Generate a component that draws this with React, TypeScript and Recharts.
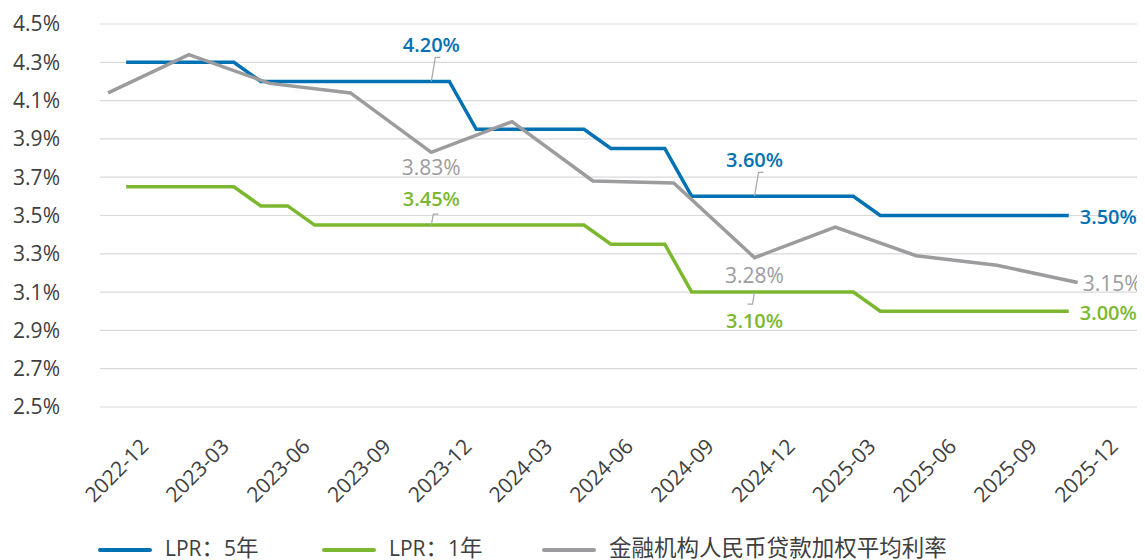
import { LineChart, Line, XAxis, YAxis, CartesianGrid, Legend } from 'recharts';

const MONTHS = [
  '2022-12', '2023-01', '2023-02', '2023-03', '2023-04', '2023-05', '2023-06',
  '2023-07', '2023-08', '2023-09', '2023-10', '2023-11', '2023-12',
  '2024-01', '2024-02', '2024-03', '2024-04', '2024-05', '2024-06',
  '2024-07', '2024-08', '2024-09', '2024-10', '2024-11', '2024-12',
  '2025-01', '2025-02', '2025-03', '2025-04', '2025-05', '2025-06',
  '2025-07', '2025-08', '2025-09', '2025-10', '2025-11', '2025-12',
];

// LPR is quoted on the 20th, so it sits ~2/3 of a month after the month start
const LPR_MONTHS = MONTHS.slice(0, 36);
const LPR_OFFSET = 0.67;

const LPR_5Y = [
  4.3, 4.3, 4.3, 4.3, 4.3, 4.2, 4.2, 4.2, 4.2, 4.2, 4.2, 4.2, 4.2,
  3.95, 3.95, 3.95, 3.95, 3.95, 3.85, 3.85, 3.85,
  3.6, 3.6, 3.6, 3.6, 3.6, 3.6, 3.6,
  3.5, 3.5, 3.5, 3.5, 3.5, 3.5, 3.5, 3.5,
];

const LPR_1Y = [
  3.65, 3.65, 3.65, 3.65, 3.65, 3.55, 3.55,
  3.45, 3.45, 3.45, 3.45, 3.45, 3.45, 3.45, 3.45, 3.45, 3.45, 3.45,
  3.35, 3.35, 3.35,
  3.1, 3.1, 3.1, 3.1, 3.1, 3.1, 3.1,
  3.0, 3.0, 3.0, 3.0, 3.0, 3.0, 3.0, 3.0,
];

const QUARTERS = [
  '2022-12', '2023-03', '2023-06', '2023-09', '2023-12', '2024-03', '2024-06',
  '2024-09', '2024-12', '2025-03', '2025-06', '2025-09', '2025-12',
];
const LOAN_RATE = [4.14, 4.34, 4.19, 4.14, 3.83, 3.99, 3.68, 3.67, 3.28, 3.44, 3.29, 3.24, 3.15];

const Y_TICKS = [2.5, 2.7, 2.9, 3.1, 3.3, 3.5, 3.7, 3.9, 4.1, 4.3, 4.5];

const COLORS = {
  lpr5: '#0071B3',
  lpr1: '#7CB82F',
  loan: '#9C9C9F',
  leader: '#A6A6A6',
  grid: '#D9D9D9',
  text: '#404040',
};

const FONT = '"Open Sans", "Noto Sans CJK SC", sans-serif';

const lpr5Data = LPR_MONTHS.map((m, i) => ({ x: MONTHS.indexOf(m) + LPR_OFFSET, value: LPR_5Y[i] }));
const lpr1Data = LPR_MONTHS.map((m, i) => ({ x: MONTHS.indexOf(m) + LPR_OFFSET, value: LPR_1Y[i] }));
const loanData = QUARTERS.map((q, i) => ({ x: MONTHS.indexOf(q), value: LOAN_RATE[i] }));
const xTicks = QUARTERS.map((q) => MONTHS.indexOf(q));

type LabelSpec = {
  index: number;
  dx: number;
  dy: number;
  anchor?: 'middle' | 'start';
  leader?: [number, number, number];
};

const LPR5_LABELS: LabelSpec[] = [
  { index: 12, dx: -18, dy: -37, leader: [4, -24, 5] },
  { index: 24, dx: -18, dy: -37, leader: [4, -24, 5] },
  { index: 35, dx: 11, dy: 1, anchor: 'start' },
];
const LPR1_LABELS: LabelSpec[] = [
  { index: 12, dx: -18, dy: -27, leader: [2, -11, 5] },
  { index: 24, dx: -18, dy: 28, leader: [-2, 12, -5] },
  { index: 35, dx: 11, dy: 1, anchor: 'start' },
];
const LOAN_LABELS: LabelSpec[] = [
  { index: 4, dx: 0, dy: 15 },
  { index: 8, dx: 0, dy: 17 },
  { index: 12, dx: 5, dy: 0, anchor: 'start' },
];

const makeLabel = (specs: LabelSpec[], color: string, weight: number, size: number) => (props: any) => {
  const { x, y, index, value } = props;
  const spec = specs.find((s) => s.index === index);
  if (!spec || x == null || y == null) return <g key={`l-${index}`} />;
  const px = x + (spec.anchor === 'start' ? 0 : spec.dx);
  const tx = x + spec.dx;
  return (
    <g key={`l-${index}`}>
      {spec.leader && (
        <path
          d={`M${px},${y} L${px + spec.leader[0]},${y + spec.leader[1]} L${px + spec.leader[0] + spec.leader[2]},${y + spec.leader[1]}`}
          stroke={COLORS.leader}
          strokeWidth={1.2}
          fill="none"
        />
      )}
      <text
        x={tx}
        y={y + spec.dy}
        textAnchor={spec.anchor ?? 'middle'}
        dominantBaseline="central"
        fill={color}
        fontSize={size}
        fontWeight={weight}
        fontFamily={FONT}
      >
        {`${Number(value).toFixed(2)}%`}
      </text>
    </g>
  );
};

const XTick = ({ x, y, payload }: any) => (
  <g transform={`translate(${x + 31},${y + 30})`}>
    <text
      textAnchor="end"
      transform="rotate(-45)"
      dy="0.72em"
      fill={COLORS.text}
      fontSize={21}
      fontFamily={FONT}
    >
      {MONTHS[payload.value]}
    </text>
  </g>
);

const isCjk = (ch: string) => /[\u3000-\u9fff\uff00-\uffef]/.test(ch);

const LegendText = ({ text }: { text: string }) => (
  <span style={{ whiteSpace: 'nowrap', position: 'relative', top: -3, lineHeight: '18px' }}>
    {Array.from(text).map((ch, i) =>
      isCjk(ch) ? (
        <span key={i} style={{ fontFamily: '"Noto Sans CJK SC"', fontSize: 22.5, lineHeight: '18px' }}>
          {ch}
        </span>
      ) : (
        <span key={i}>{ch}</span>
      ),
    )}
  </span>
);

const LEGEND_ITEMS = [
  { name: 'LPR：5年', color: COLORS.lpr5, left: 90 },
  { name: 'LPR：1年', color: COLORS.lpr1, left: 314 },
  { name: '金融机构人民币贷款加权平均利率', color: COLORS.loan, left: 534 },
];

const renderLegend = () => (
  <div style={{ position: 'relative', height: 40, fontFamily: FONT, fontSize: 21, color: COLORS.text }}>
    {LEGEND_ITEMS.map((item) => (
      <div
        key={item.name}
        style={{
          position: 'absolute',
          left: item.left,
          top: 18,
          height: 24,
          display: 'flex',
          alignItems: 'center',
        }}
      >
        <div style={{ width: 54, height: 4, borderRadius: 2, background: item.color, marginRight: 13 }} />
        <LegendText text={item.name} />
      </div>
    ))}
  </div>
);

export default function App() {
  return (
    <LineChart
      width={1137}
      height={552}
      margin={{ top: 16, right: 0, bottom: 0, left: 0 }}
      style={{ fontFamily: FONT }}
    >
      <CartesianGrid horizontal vertical={false} stroke={COLORS.grid} strokeWidth={1.2} />
      <XAxis
        type="number"
        dataKey="x"
        domain={[-0.3, 38.5]}
        ticks={xTicks}
        interval={0}
        allowDataOverflow
        axisLine={false}
        tickLine={false}
        tickSize={0}
        tickMargin={0}
        height={113}
        tick={<XTick />}
      />
      <YAxis
        type="number"
        domain={[2.5, 4.5]}
        ticks={Y_TICKS}
        interval={0}
        width={92}
        axisLine={false}
        tickLine={false}
        tickSize={0}
        tickMargin={40}
        tickFormatter={(v: number) => `${v.toFixed(1)}%`}
        tick={{ fontSize: 21, fill: COLORS.text, fontFamily: FONT }}
      />
      <Legend verticalAlign="bottom" height={40} content={renderLegend} wrapperStyle={{ left: 0, width: 1137 }} />
      <Line
        data={lpr5Data}
        dataKey="value"
        name="LPR：5年"
        type="linear"
        stroke={COLORS.lpr5}
        strokeWidth={3.5}
        dot={false}
        isAnimationActive={false}
        label={makeLabel(LPR5_LABELS, COLORS.lpr5, 600, 20)}
      />
      <Line
        data={lpr1Data}
        dataKey="value"
        name="LPR：1年"
        type="linear"
        stroke={COLORS.lpr1}
        strokeWidth={3.5}
        dot={false}
        isAnimationActive={false}
        label={makeLabel(LPR1_LABELS, COLORS.lpr1, 600, 20)}
      />
      <Line
        data={loanData}
        dataKey="value"
        name="金融机构人民币贷款加权平均利率"
        type="linear"
        stroke={COLORS.loan}
        strokeWidth={3.5}
        dot={false}
        isAnimationActive={false}
        label={makeLabel(LOAN_LABELS, COLORS.loan, 400, 21)}
      />
    </LineChart>
  );
}
